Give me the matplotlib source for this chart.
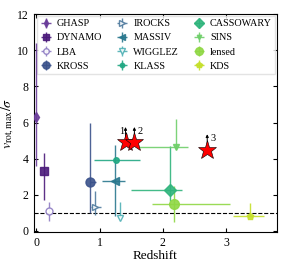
import matplotlib
matplotlib.use("Agg")
import matplotlib.pyplot as plt
import numpy as np

plt.rcParams['font.family'] = ['Liberation Serif', 'DejaVu Serif']
plt.rcParams['mathtext.fontset'] = 'stix'

surveys = ["GHASP", "DYNAMO", "LBA", "KROSS", "IROCKS", "MASSIV",
           "WIGGLEZ", "KLASS", "CASSOWARY", "SINS", "lensed", "KDS"]
z = [0.0, 0.13, 0.2, 0.85, 0.93, 1.24, 1.32, 1.26, 2.12, 2.21, 2.18, 3.38]
v = [6.3, 3.3, 1.1, 2.7, 1.3, 2.75, 0.7, 3.9, 2.25, 4.65, 1.5, 0.85]
z_lo = [0.0, 0.0, 0.0, 0.0, 0.07, 0.2, 0.0, 0.34, 0.62, 0.59, 0.35, 0.28]
z_hi = [0.0, 0.0, 0.0, 0.1, 0.1, 0.16, 0.0, 0.38, 0.18, 0.19, 0.88, 0.22]
v_lo = [2.7, 1.6, 0.55, 1.7, 0.4, 1.9, 0.0, 0.0, 0.6, 0.1, 1.0, 0.0]
v_hi = [4.1, 1.0, 0.5, 3.3, 0.9, 2.0, 0.9, 0.0, 2.45, 1.55, 1.0, 0.7]
markers = ["d", "s", "o", "o", ">", "<", "v", "o", "D", "v", "o", "p"]
filled = [True, True, False, True, False, True, False, True, True, True, True, True]
msizes = [5, 6, 5, 6.5, 5, 6, 5, 4, 6, 4, 7, 5]
colors = ["#6a3d9a", "#4b1a7a", "#8e7cc3", "#3b528b", "#4f7a9e", "#2a788e",
          "#4fb0b5", "#22a884", "#2fb47c", "#6fcf6a", "#8fd744", "#c5df2a"]

star_z = [1.41, 1.55, 2.7]
star_v = [4.9, 4.9, 4.5]
star_lbl = ["1", "2", "3"]
lbl_dx = [-0.1, 0.05, 0.05]

fig, ax = plt.subplots(figsize=(2.93, 2.65), dpi=100)
fig.subplots_adjust(left=0.115, right=0.945, top=0.947, bottom=0.125)

for i, s in enumerate(surveys):
    c = colors[i]
    ax.errorbar(z[i], v[i], xerr=[[z_lo[i]], [z_hi[i]]], yerr=[[v_lo[i]], [v_hi[i]]],
                fmt=markers[i], color=c, ecolor=c, elinewidth=1.0, capsize=0,
                ms=msizes[i], mfc=c if filled[i] else "white", mec=c, mew=1.0,
                label=s, alpha=0.9, zorder=6 if i == 0 else 3)

ax.axhline(1.0, color="black", ls="--", lw=0.8)

for zz, vv, lb, dx in zip(star_z, star_v, star_lbl, lbl_dx):
    ax.annotate("", xy=(zz, vv + 0.85), xytext=(zz, vv),
                arrowprops=dict(arrowstyle="-|>", color="black", lw=0.7,
                                mutation_scale=4, shrinkA=0, shrinkB=0))
    ax.plot(zz, vv, marker="*", ms=14, mfc="red", mec="black", mew=0.4,
            ls="none", zorder=5)
    ax.text(zz + dx, vv + 0.45, lb, fontsize=7.5)

ax.set_xlim(-0.04, 3.8)
ax.set_ylim(-0.05, 12)
ax.set_xticks([0, 1, 2, 3])
ax.set_yticks([0, 2, 4, 6, 8, 10, 12])
ax.tick_params(direction="in", top=True, right=True, labelsize=8.5, length=3)
ax.set_xlabel("Redshift", fontsize=9.5, labelpad=1)
ax.set_ylabel(r"$v_{\rm rot,max}/\sigma$", fontsize=10, labelpad=1)

ax.legend(loc="upper left", bbox_to_anchor=(0.008, 1.0, 0.992, 0.0), mode="expand",
          ncol=3, fontsize=7.3, frameon=True, markerscale=0.8,
          handletextpad=0.6, columnspacing=1.0, labelspacing=0.5,
          borderaxespad=0.15, handlelength=1.0, borderpad=0.35, fancybox=False,
          edgecolor="#dddddd")

fig.savefig("out.png", dpi=100)
